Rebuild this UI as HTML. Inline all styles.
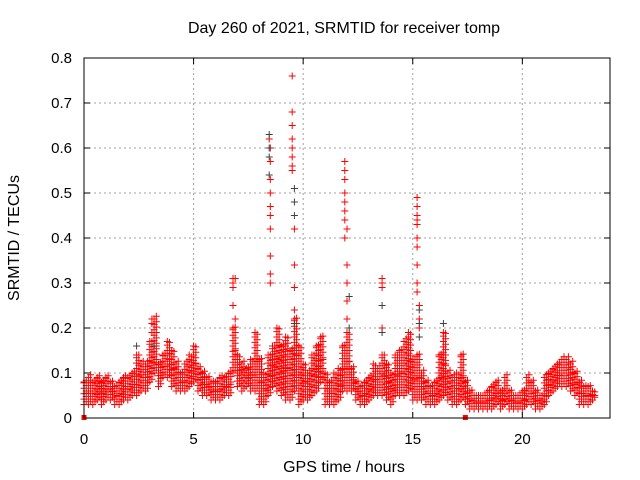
<!DOCTYPE html>
<html><head><meta charset="utf-8"><style>
html,body{margin:0;padding:0;background:#fff;}
svg{display:block;font-family:"Liberation Sans",sans-serif;}
</style></head><body>
<svg id="chart" width="640" height="480">
<rect width="640" height="480" fill="#fff"/>
<text x="344" y="33" font-size="16" text-anchor="middle">Day 260 of 2021, SRMTID for receiver tomp</text>
<text x="344" y="472" font-size="16" text-anchor="middle">GPS time / hours</text>
<text x="0" y="0" font-size="16" text-anchor="middle" transform="translate(19,238) rotate(-90)">SRMTID / TECUs</text>
<g id="grid"></g><g id="marks"></g>
<rect x="84" y="58" width="526" height="360" fill="none" stroke="#000" stroke-width="1"/>
<g id="ticks"></g>
</svg>
<script>
const xTicks=[0,5,10,15,20];
const yTicks=[0,0.1,0.2,0.3,0.4,0.5,0.6,0.7,0.8];
const yTickLabels=["0","0.1","0.2","0.3","0.4","0.5","0.6","0.7","0.8"];
const bandStart=0, bandStep=0.2;
const bandHi=[.08,.09,.08,.09,.08,.09,.08,.07,.08,.09,.09,.10,.14,.12,.12,.17,.22,.12,.14,.17,.15,.12,.10,.12,.14,.16,.11,.10,.09,.08,.08,.09,.09,.10,.20,.14,.12,.11,.13,.19,.13,.10,.14,.16,.20,.16,.18,.15,.22,.16,.12,.10,.14,.16,.18,.10,.08,.10,.11,.16,.19,.11,.08,.07,.08,.09,.12,.11,.14,.12,.10,.14,.15,.17,.19,.13,.14,.10,.08,.07,.08,.14,.19,.10,.09,.10,.14,.08,.06,.05,.05,.05,.06,.07,.08,.06,.09,.06,.05,.05,.06,.09,.08,.06,.05,.09,.10,.11,.12,.13,.13,.12,.10,.08,.07,.07,.06];
const bandLo=[.03,.03,.03,.04,.03,.04,.04,.03,.03,.04,.04,.05,.05,.06,.06,.08,.10,.07,.09,.09,.07,.06,.06,.06,.07,.08,.06,.05,.05,.04,.04,.04,.05,.05,.10,.07,.06,.07,.06,.06,.03,.03,.05,.07,.06,.05,.04,.04,.06,.03,.04,.04,.05,.06,.08,.03,.03,.03,.04,.06,.06,.06,.04,.03,.03,.04,.05,.05,.05,.04,.03,.05,.05,.05,.06,.04,.04,.04,.03,.03,.03,.04,.05,.04,.03,.03,.04,.03,.02,.02,.02,.02,.02,.02,.03,.02,.03,.02,.02,.02,.02,.03,.03,.02,.02,.03,.05,.06,.07,.07,.07,.06,.05,.03,.03,.03,.04];
const spikeT=[3.1,3.1,3.1,6.8,6.8,6.8,6.8,6.9,6.9,8.5,8.5,8.5,8.5,8.5,8.5,8.5,8.5,8.5,8.5,8.45,9.5,9.5,9.5,9.5,9.5,9.5,9.5,9.5,9.6,9.6,9.6,9.6,9.6,11.9,11.9,11.9,11.9,11.9,11.9,11.9,11.9,12.0,12.0,12.0,12.0,12.0,13.6,13.6,13.6,13.6,15.2,15.2,15.2,15.2,15.2,15.2,15.2,15.2,15.2,15.2,15.3,15.3,15.3];
const spikeV=[.19,.21,.22,.25,.29,.30,.31,.31,.22,.30,.32,.36,.42,.45,.47,.50,.53,.57,.60,.62,.76,.68,.65,.62,.60,.58,.56,.55,.42,.34,.29,.24,.22,.57,.55,.53,.50,.48,.46,.44,.40,.42,.34,.30,.26,.22,.31,.30,.29,.20,.49,.47,.45,.44,.43,.40,.38,.34,.30,.28,.25,.22,.20];
const blackT=[8.45,8.45,8.45,8.45,9.6,9.6,9.6,9.6,12.1,12.1,13.6,13.6,15.3,15.3,15.3,16.4,2.4,3.2];
const blackV=[.63,.60,.58,.54,.51,.48,.45,.21,.27,.20,.25,.19,.24,.21,.18,.21,.16,.16];
const squareT=[0,17.4];
const NS="http://www.w3.org/2000/svg";
function xs(t){return 84+t*(526/24);}
function ys(v){return 418-v*450;}
const grid=document.getElementById('grid'),ticks=document.getElementById('ticks'),marks=document.getElementById('marks');
xTicks.forEach(t=>{
 const x=xs(t);
 if(t>0){const l=document.createElementNS(NS,'line');
 
 
 l.setAttribute('x1',x);l.setAttribute('x2',x);l.setAttribute('y1',58);l.setAttribute('y2',418);
 l.setAttribute('stroke','#a0a0a0');l.setAttribute('stroke-dasharray','2,3');grid.appendChild(l);}
 const tk=document.createElementNS(NS,'path');
 
 
 tk.setAttribute('d',`M${x} 418v-6M${x} 58v6`);tk.setAttribute('stroke','#000');ticks.appendChild(tk);
 const tx=document.createElementNS(NS,'text');
 
 
 tx.setAttribute('x',x);tx.setAttribute('y',444);tx.setAttribute('font-size','15');tx.setAttribute('text-anchor','middle');tx.textContent=t;ticks.appendChild(tx);
});
yTicks.forEach((v,i)=>{
 const y=ys(v);
 if(v>0&&v<0.8){const l=document.createElementNS(NS,'line');
 
 
 l.setAttribute('x1',84);l.setAttribute('x2',610);l.setAttribute('y1',y);l.setAttribute('y2',y);
 l.setAttribute('stroke','#a0a0a0');l.setAttribute('stroke-dasharray','2,3');grid.appendChild(l);}
 const tk=document.createElementNS(NS,'path');
 
 
 tk.setAttribute('d',`M84 ${y}h6M610 ${y}h-6`);tk.setAttribute('stroke','#000');ticks.appendChild(tk);
 const tx=document.createElementNS(NS,'text');
 
 
 tx.setAttribute('x',72);tx.setAttribute('y',y+5);tx.setAttribute('font-size','15');tx.setAttribute('text-anchor','end');tx.textContent=yTickLabels[i];ticks.appendChild(tx);
});
let dRed='',dBlack='';
function plus(t,v){const x=xs(t),y=ys(v);return `M${(x-3.5).toFixed(1)} ${y.toFixed(1)}h7M${x.toFixed(1)} ${(y-3.5).toFixed(1)}v7`;}
bandHi.forEach((hi,i)=>{
 const t=bandStart+i*bandStep,lo=bandLo[i];
 for(let v=lo;v<=hi+1e-9;v+=0.012){dRed+=plus(t,v)+plus(t+bandStep/2,v+0.006);}
 dRed+=plus(t,hi)+plus(t+bandStep/2,(hi+lo)/2);
});
spikeT.forEach((t,i)=>{dRed+=plus(t,spikeV[i]);});
blackT.forEach((t,i)=>{dBlack+=plus(t,blackV[i]);});
const pr=document.createElementNS(NS,'path');


pr.setAttribute('d',dRed);pr.setAttribute('stroke','#ff0000');pr.setAttribute('stroke-width','1');marks.appendChild(pr);
const pb=document.createElementNS(NS,'path');


pb.setAttribute('d',dBlack);pb.setAttribute('stroke','#404040');pb.setAttribute('stroke-width','1');marks.appendChild(pb);
squareT.forEach(t=>{
 const r=document.createElementNS(NS,'rect');
 
 
 r.setAttribute('x',xs(t)-2.5);r.setAttribute('y',415);r.setAttribute('width',5);r.setAttribute('height',5);r.setAttribute('fill','#ff0000');marks.appendChild(r);
});
</script>
</body></html>
